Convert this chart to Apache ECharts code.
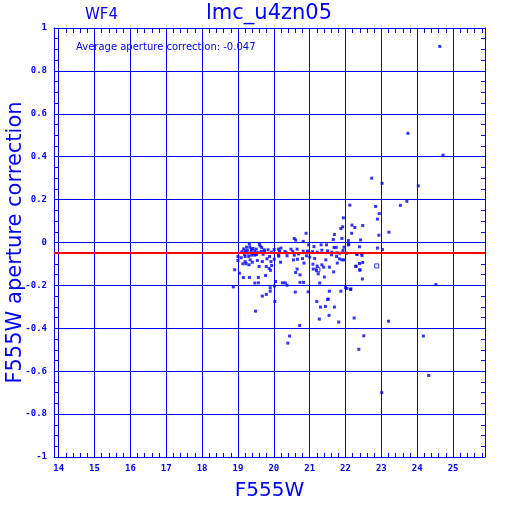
<!DOCTYPE html>
<html>
<head>
<meta charset="utf-8">
<script src="https://cdn.jsdelivr.net/npm/echarts@6/dist/echarts.min.js"></script>
<style>
  html, body { margin: 0; padding: 0; background: #fff; }
  #main { width: 512px; height: 512px; }
</style>
</head>
<body>
<div id="main"></div>
<script>
// ticks
var xTicks = [14, 15, 16, 17, 18, 19, 20, 21, 22, 23, 24, 25];
var yTicks = [-1, -0.8, -0.6, -0.4, -0.2, 0, 0.2, 0.4, 0.6, 0.8, 1];
var avgCorr = -0.047;

// F555W magnitude and aperture correction
var mag = [
  24.63, 23.74, 24.72, 22.73, 23.02, 24.03, 23.71, 23.53, 22.84, 22.12, 22.94, 22.89,
  21.94, 21.92, 21.87, 22.18, 22.26, 22.48, 22.93, 22.17, 23.21, 20.90, 21.69, 21.90,
  20.57, 20.61, 20.82, 22.08, 22.42, 21.66, 20.97, 21.12, 21.32, 21.47, 21.68, 21.74,
  21.96, 22.08, 22.39, 22.89, 23.03, 22.09,
  19.32, 19.60, 19.62, 19.16, 19.24, 19.33, 19.42, 19.51, 19.66, 19.73, 19.11, 19.20,
  19.26, 19.37, 19.47, 19.56, 19.65, 19.74, 19.84, 19.94, 20.01, 20.13, 20.16, 20.20,
  20.31, 20.35, 20.48, 20.53, 20.65, 20.69, 20.82, 20.94, 20.98, 21.08, 21.21, 21.34,
  21.50, 21.62, 21.76, 21.84, 21.93, 22.03, 22.31, 22.45, 20.91, 21.14, 21.00,
  19.28, 19.44, 19.52, 19.18, 19.70, 19.38,
  19.00, 19.00, 19.09, 19.20, 19.30, 19.38, 19.47, 19.14, 19.23, 19.31, 19.34, 19.20,
  19.40, 19.54, 19.59, 19.68, 19.81, 19.88, 19.92, 19.94, 19.79, 19.87, 19.91, 20.13,
  20.01, 20.19, 20.14, 20.37, 20.55, 20.57, 20.66, 20.80, 20.84, 20.65, 20.61, 20.73,
  21.09, 21.21, 21.34, 21.39, 21.45, 21.55, 21.61, 21.75, 21.77, 21.83, 21.90, 21.96,
  22.29, 22.39, 22.40, 22.47, 21.10, 21.19, 21.24, 21.41, 18.91, 19.04, 19.15, 19.32,
  19.57, 19.57, 19.47, 19.77, 18.87, 20.05, 20.24, 20.32, 20.37, 20.73, 20.83, 21.28,
  22.00, 22.15, 19.90, 20.02, 19.90, 19.79, 19.68, 20.60, 20.96, 21.55, 21.87, 21.52,
  22.48, 22.29, 22.40, 22.32, 22.46, 21.67, 24.52,
  19.49, 20.03, 21.20, 21.50, 21.30, 21.44, 21.69, 21.27, 21.54, 21.81, 20.72, 20.44,
  20.39, 22.04, 22.14, 22.24, 23.20, 22.51, 22.37, 24.17, 24.32, 23.01
];
var apCorr = [
  0.914, 0.509, 0.407, 0.300, 0.276, 0.264, 0.192, 0.173, 0.168, 0.174, 0.135, 0.109,
  0.115, 0.073, 0.065, 0.081, 0.070, 0.079, 0.034, 0.043, 0.048, 0.043, 0.037, 0.019,
  0.019, 0.011, 0.005, 0.009, 0.012, 0.014, -0.011, -0.019, -0.011, -0.011, -0.023, -0.023,
  -0.022, -0.011, -0.020, -0.026, -0.033, -0.008,
  -0.008, -0.008, -0.016, -0.030, -0.022, -0.022, -0.028, -0.031, -0.023, -0.034, -0.043, -0.040,
  -0.037, -0.042, -0.040, -0.047, -0.042, -0.042, -0.034, -0.045, -0.033, -0.031, -0.040, -0.026,
  -0.042, -0.048, -0.031, -0.042, -0.031, -0.053, -0.040, -0.040, -0.048, -0.043, -0.045, -0.036,
  -0.039, -0.045, -0.048, -0.050, -0.037, -0.050, -0.053, -0.053, -0.062, -0.075, -0.068,
  -0.050, -0.052, -0.056, -0.055, -0.055, -0.030,
  -0.065, -0.084, -0.071, -0.065, -0.065, -0.059, -0.059, -0.099, -0.099, -0.104, -0.081, -0.089,
  -0.092, -0.084, -0.112, -0.089, -0.076, -0.065, -0.089, -0.107, -0.112, -0.121, -0.130, -0.059,
  -0.078, -0.092, -0.064, -0.062, -0.081, -0.059, -0.078, -0.075, -0.096, -0.124, -0.140, -0.151,
  -0.101, -0.110, -0.104, -0.115, -0.081, -0.115, -0.057, -0.065, -0.096, -0.076, -0.081, -0.081,
  -0.110, -0.098, -0.127, -0.170, -0.124, -0.129, -0.146, -0.161, -0.127, -0.143, -0.163, -0.163,
  -0.163, -0.188, -0.189, -0.154, -0.207, -0.182, -0.188, -0.188, -0.199, -0.186, -0.186, -0.189,
  -0.211, -0.216, -0.211, -0.203, -0.227, -0.242, -0.250, -0.231, -0.230, -0.227, -0.227, -0.264,
  -0.093, -0.112, -0.129, -0.056, -0.061, -0.137, -0.196,
  -0.320, -0.275, -0.275, -0.265, -0.301, -0.298, -0.301, -0.357, -0.340, -0.371, -0.387, -0.436,
  -0.469, -0.214, -0.219, -0.352, -0.367, -0.435, -0.498, -0.436, -0.620, -0.700
];
// points drawn hollow
var flagMag = [21.23, 22.87];
var flagCorr = [-0.127, -0.109];

var blue = '#0000ff';
var xMinor = [];
for (var v = 140; v <= 258; v += 2) {
  if (v % 10 !== 0) xMinor.push(v / 10);
}

var pts = mag.map(function (m, i) { return [m, apCorr[i]]; });
var flagPts = flagMag.map(function (m, i) { return [m, flagCorr[i]]; });

var tickFont = { color: blue, fontFamily: 'DejaVu Sans Mono', fontSize: 9, fontWeight: 'bold' };

var myChart = echarts.init(document.getElementById('main'), null, { renderer: 'canvas' });
myChart.setOption({
  backgroundColor: '#ffffff',
  animation: false,
  grid: { left: 54, right: 27, top: 28, bottom: 55, containLabel: false, outerBoundsMode: 'none' },
  graphic: [
    { type: 'text', left: 85, top: 8,
      style: { text: 'WF4', fill: blue, font: '15px "DejaVu Sans"' } },
    { type: 'text', left: 206, top: 3,
      style: { text: 'lmc_u4zn05', fill: blue, font: '21px "DejaVu Sans"' } },
    { type: 'text', left: 76, top: 42,
      style: { text: 'Average aperture correction: ' + avgCorr.toFixed(3), fill: blue, font: '10px "DejaVu Sans"' } }
  ],
  xAxis: [
    {
      type: 'value', min: 13.87, max: 25.89, position: 'bottom',
      name: 'F555W', nameLocation: 'middle', nameGap: 24, nameMoveOverlap: false,
      nameTextStyle: { color: blue, fontFamily: 'DejaVu Sans', fontSize: 20 },
      axisLine: { show: true, onZero: false, lineStyle: { color: blue, width: 1 } },
      axisTick: { show: false, customValues: xTicks },
      axisLabel: Object.assign({ customValues: xTicks, margin: 7, hideOverlap: false }, tickFont),
      splitLine: { show: true, lineStyle: { color: blue, width: 1 } }
    },
    {
      type: 'value', min: 13.87, max: 25.89, position: 'bottom',
      axisLine: { show: false, onZero: false },
      axisTick: { show: true, inside: true, length: 4, customValues: xMinor, lineStyle: { color: blue } },
      axisLabel: { show: false },
      splitLine: { show: false }
    },
    {
      type: 'value', min: 13.87, max: 25.89, position: 'top',
      axisLine: { show: true, onZero: false, lineStyle: { color: blue, width: 1 } },
      axisTick: { show: true, inside: true, length: 5, customValues: xMinor, lineStyle: { color: blue } },
      axisLabel: { show: false },
      splitLine: { show: false }
    }
  ],
  yAxis: [
    {
      type: 'value', min: yTicks[0], max: yTicks[yTicks.length - 1], interval: 0.2, position: 'left',
      name: 'F555W aperture correction', nameLocation: 'middle', nameGap: 28, nameMoveOverlap: false,
      nameTextStyle: { color: blue, fontFamily: 'DejaVu Sans', fontSize: 21 },
      axisLine: { show: true, onZero: false, lineStyle: { color: blue, width: 1 } },
      axisTick: { show: false, inside: true },
      minorTick: { show: true, splitNumber: 4, length: 4, lineStyle: { color: blue } },
      axisLabel: Object.assign({ margin: 7 }, tickFont),
      splitLine: { show: true, lineStyle: { color: blue, width: 1 } }
    },
    {
      type: 'value', min: yTicks[0], max: yTicks[yTicks.length - 1], interval: 0.2, position: 'right',
      axisLine: { show: true, onZero: false, lineStyle: { color: blue, width: 1 } },
      axisTick: { show: false, inside: true },
      minorTick: { show: true, splitNumber: 4, length: 4, lineStyle: { color: blue } },
      axisLabel: { show: false },
      splitLine: { show: false }
    }
  ],
  series: [
    {
      type: 'scatter', xAxisIndex: 0, yAxisIndex: 0,
      data: pts, symbol: 'rect', symbolSize: 3,
      itemStyle: { color: blue },
      markLine: {
        silent: true, symbol: 'none', label: { show: false },
        lineStyle: { color: '#ff0000', width: 2, type: 'solid' },
        data: [{ yAxis: avgCorr }]
      },
      z: 3
    },
    {
      type: 'scatter', xAxisIndex: 0, yAxisIndex: 0,
      data: flagPts, symbol: 'rect', symbolSize: 4,
      itemStyle: { color: 'transparent', borderColor: blue, borderWidth: 1 },
      z: 3
    }
  ]
});
</script>
</body>
</html>
